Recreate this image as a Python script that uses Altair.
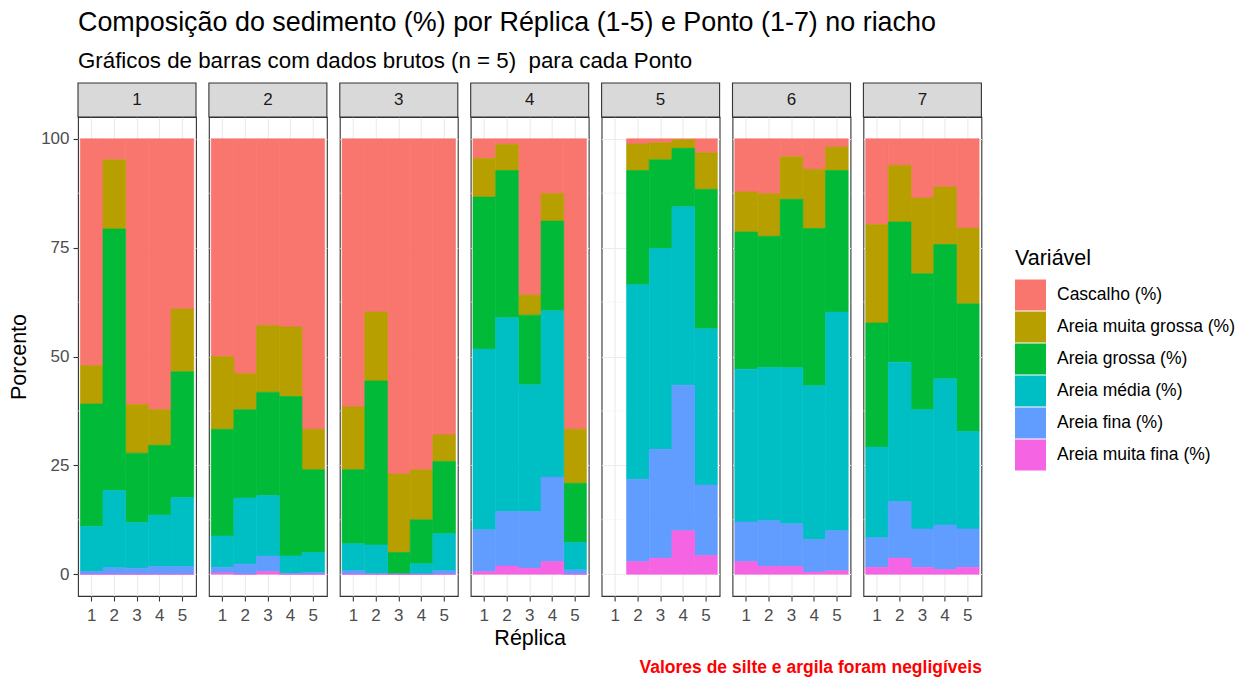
import altair as alt
import pandas as pd

# Sediment composition (%) per sampling point (Ponto 1-7) and replicate (Réplica 1-5).
# Each list runs Ponto 1 réplicas 1-5, then Ponto 2 réplicas 1-5, and so on.
# Ponto 5 réplica 1 was not sampled (None).
pontos = [1] * 5 + [2] * 5 + [3] * 5 + [4] * 5 + [5] * 5 + [6] * 5 + [7] * 5
replicas = [1, 2, 3, 4, 5] * 7

cascalho = [52.1, 4.8, 61.0, 62.2, 39.1,
            50.0, 53.9, 42.9, 43.2, 66.7,
            61.6, 39.8, 77.0, 76.0, 68.0,
            4.5, 1.3, 35.9, 12.6, 66.7,
            None, 1.2, 0.9, 0.2, 3.2,
            12.2, 12.6, 4.1, 7.0, 1.9,
            19.7, 6.1, 13.6, 11.1, 20.5]
muita_grossa = [8.8, 15.9, 11.2, 8.2, 14.4,
                16.7, 8.3, 15.3, 16.0, 9.3,
                14.4, 15.8, 18.0, 11.5, 6.1,
                8.9, 6.0, 4.6, 6.3, 12.4,
                None, 6.1, 3.9, 2.0, 8.4,
                9.2, 9.8, 9.8, 13.6, 5.4,
                22.6, 13.0, 17.4, 13.2, 17.4]
grossa = [28.1, 60.1, 15.9, 16.0, 28.9,
          24.5, 20.3, 23.7, 36.6, 19.0,
          17.0, 37.7, 5.0, 10.1, 16.6,
          34.9, 33.8, 16.0, 20.6, 13.6,
          None, 26.2, 20.4, 13.4, 32.0,
          31.5, 30.1, 38.7, 36.1, 32.5,
          28.5, 32.2, 31.2, 30.8, 29.3]
media = [10.4, 17.7, 10.5, 11.8, 15.8,
         7.2, 15.2, 13.9, 4.0, 4.6,
         6.2, 6.6, 0.0, 2.4, 8.5,
         41.5, 44.5, 29.1, 38.2, 6.3,
         None, 44.7, 46.1, 41.0, 35.9,
         35.1, 35.2, 35.8, 35.3, 50.2,
         20.8, 32.0, 27.4, 33.6, 22.4]
fina = [0.6, 1.5, 1.4, 1.8, 1.8,
        1.3, 2.3, 3.6, 0.2, 0.4,
        0.8, 0.1, 0.0, 0.0, 0.8,
        9.6, 12.5, 13.0, 19.4, 1.0,
        None, 18.9, 25.0, 33.4, 16.2,
        9.1, 10.5, 9.8, 7.5, 9.2,
        6.8, 13.0, 8.8, 10.2, 8.8]
muita_fina = [0.0, 0.0, 0.0, 0.0, 0.0,
              0.3, 0.0, 0.6, 0.0, 0.0,
              0.0, 0.0, 0.0, 0.0, 0.0,
              0.6, 1.9, 1.4, 2.9, 0.0,
              None, 2.9, 3.7, 10.0, 4.3,
              2.9, 1.8, 1.8, 0.5, 0.8,
              1.6, 3.7, 1.6, 1.1, 1.6]

variaveis = ["Cascalho (%)", "Areia muita grossa (%)", "Areia grossa (%)",
             "Areia média (%)", "Areia fina (%)", "Areia muita fina (%)"]
cores = ["#F8766D", "#B79F00", "#00BA38", "#00BFC4", "#619CFF", "#F564E3"]
series = [cascalho, muita_grossa, grossa, media, fina, muita_fina]

rows = []
for nome, valores in zip(variaveis, series):
    for p, r, v in zip(pontos, replicas, valores):
        if v is None:
            continue
        rows.append({"Ponto": p, "Réplica": str(r), "Variável": nome,
                     "Valor": v, "ordem": 5 - variaveis.index(nome)})
df = pd.DataFrame(rows)

major_y = [0, 25, 50, 75, 100]
minor_y = [12.5, 37.5, 62.5, 87.5]
replica_labels = ["1", "2", "3", "4", "5"]

FONT = "Liberation Sans"
W = 118
H = 479
STRIP = 34
color_scale = alt.Scale(domain=variaveis, range=cores)


def painel(p):
    sub = df[df["Ponto"] == p]
    first = p == 1
    if p == 4:
        x_title, x_extra = "Réplica", dict(titleFontSize=21.5, titleColor="#000000",
                                           titleFontWeight="normal", titlePadding=4)
    elif p == 7:
        x_title, x_extra = "Valores de silte e argila foram negligíveis", dict(
            titleFontSize=17.5, titleColor="#FF0000", titleFontWeight="bold",
            titleAnchor="end", titlePadding=35)
    else:
        x_title, x_extra = None, {}

    x_axis = alt.Axis(title=x_title, labelAngle=0, labelFontSize=17,
                      labelColor="#4D4D4D", labelFont=FONT, titleFont=FONT,
                      tickColor="#333333", tickSize=5, tickWidth=1.1,
                      labelPadding=6, domain=False, grid=True,
                      gridColor="#EBEBEB", gridWidth=1.1, **x_extra)
    if first:
        y_axis = alt.Axis(title="Porcento", values=major_y, labelFontSize=17,
                          labelColor="#4D4D4D", labelFont=FONT, titleFont=FONT,
                          titleFontSize=21.5, titleFontWeight="normal",
                          titleColor="#000000", titlePadding=10,
                          tickColor="#333333", tickSize=5, tickWidth=1.1,
                          labelPadding=4, domain=False, grid=True,
                          gridColor="#EBEBEB", gridWidth=1.1)
    else:
        y_axis = alt.Axis(title=None, values=major_y, labels=False, ticks=False,
                          domain=False, grid=True, gridColor="#EBEBEB",
                          gridWidth=1.1)

    x_enc = alt.X("Réplica:N", scale=alt.Scale(domain=replica_labels,
                                               paddingInner=0, paddingOuter=0.1),
                  axis=x_axis)
    y_scale = alt.Scale(domain=[-5, 105], nice=False, zero=False)

    grade = alt.Chart(pd.DataFrame({"g": minor_y})).mark_rule(
        color="#F2F2F2", strokeWidth=0.6
    ).encode(y=alt.Y("g:Q", scale=y_scale, axis=y_axis))

    barras = alt.Chart(sub).mark_bar(strokeWidth=0.6).encode(
        x=x_enc,
        y=alt.Y("Valor:Q", stack="zero", scale=y_scale, axis=y_axis),
        color=alt.Color("Variável:N", scale=color_scale,
                        legend=alt.Legend(
                            title="Variável", orient="none",
                            legendX=937, legendY=131,
                            titleFont=FONT, titleFontSize=21.5,
                            titleFontWeight="normal", titleColor="#000000",
                            titlePadding=10, titleLimit=0,
                            labelFont=FONT, labelFontSize=17.5,
                            labelColor="#000000", labelOffset=11,
                            labelLimit=0,
                            symbolType="square", symbolSize=961,
                            symbolStrokeWidth=0, symbolOpacity=1,
                            rowPadding=1)),
        stroke=alt.Stroke("Variável:N", scale=color_scale, legend=None),
        order=alt.Order("ordem:Q"),
    )

    strip_df = pd.DataFrame({"Ponto": [str(p)]})
    faixa = alt.Chart(strip_df).mark_rect(
        fill="#D9D9D9", stroke="#333333", strokeWidth=1.1
    ).encode(x=alt.value(0), x2=alt.value(W), y=alt.value(-STRIP), y2=alt.value(0))
    rotulo = alt.Chart(strip_df).mark_text(
        font=FONT, fontSize=17, color="#1A1A1A", baseline="middle", align="center"
    ).encode(x=alt.value(W / 2), y=alt.value(-STRIP / 2), text="Ponto:N")

    return alt.layer(grade, barras, faixa, rotulo).properties(width=W, height=H)


chart = alt.hconcat(*[painel(p) for p in range(1, 8)], spacing=12.9,
                    bounds="flush").properties(
    title=alt.TitleParams(
        text="Composição do sedimento (%) por Réplica (1-5) e Ponto (1-7) no riacho",
        subtitle="Gráficos de barras com dados brutos (n = 5)\u00a0 para cada Ponto",
        anchor="start", frame="group", font=FONT, fontSize=26.9,
        fontWeight="normal", color="#000000", subtitleFont=FONT,
        subtitleFontSize=22.3, subtitleColor="#000000", subtitlePadding=13,
        offset=9),
    padding={"left": 8, "top": 8, "right": 5, "bottom": 5},
    background="white",
).configure_view(
    stroke="#333333", strokeWidth=1.1
)

chart.save("out.html", embed_options={"renderer": "svg", "actions": False})
